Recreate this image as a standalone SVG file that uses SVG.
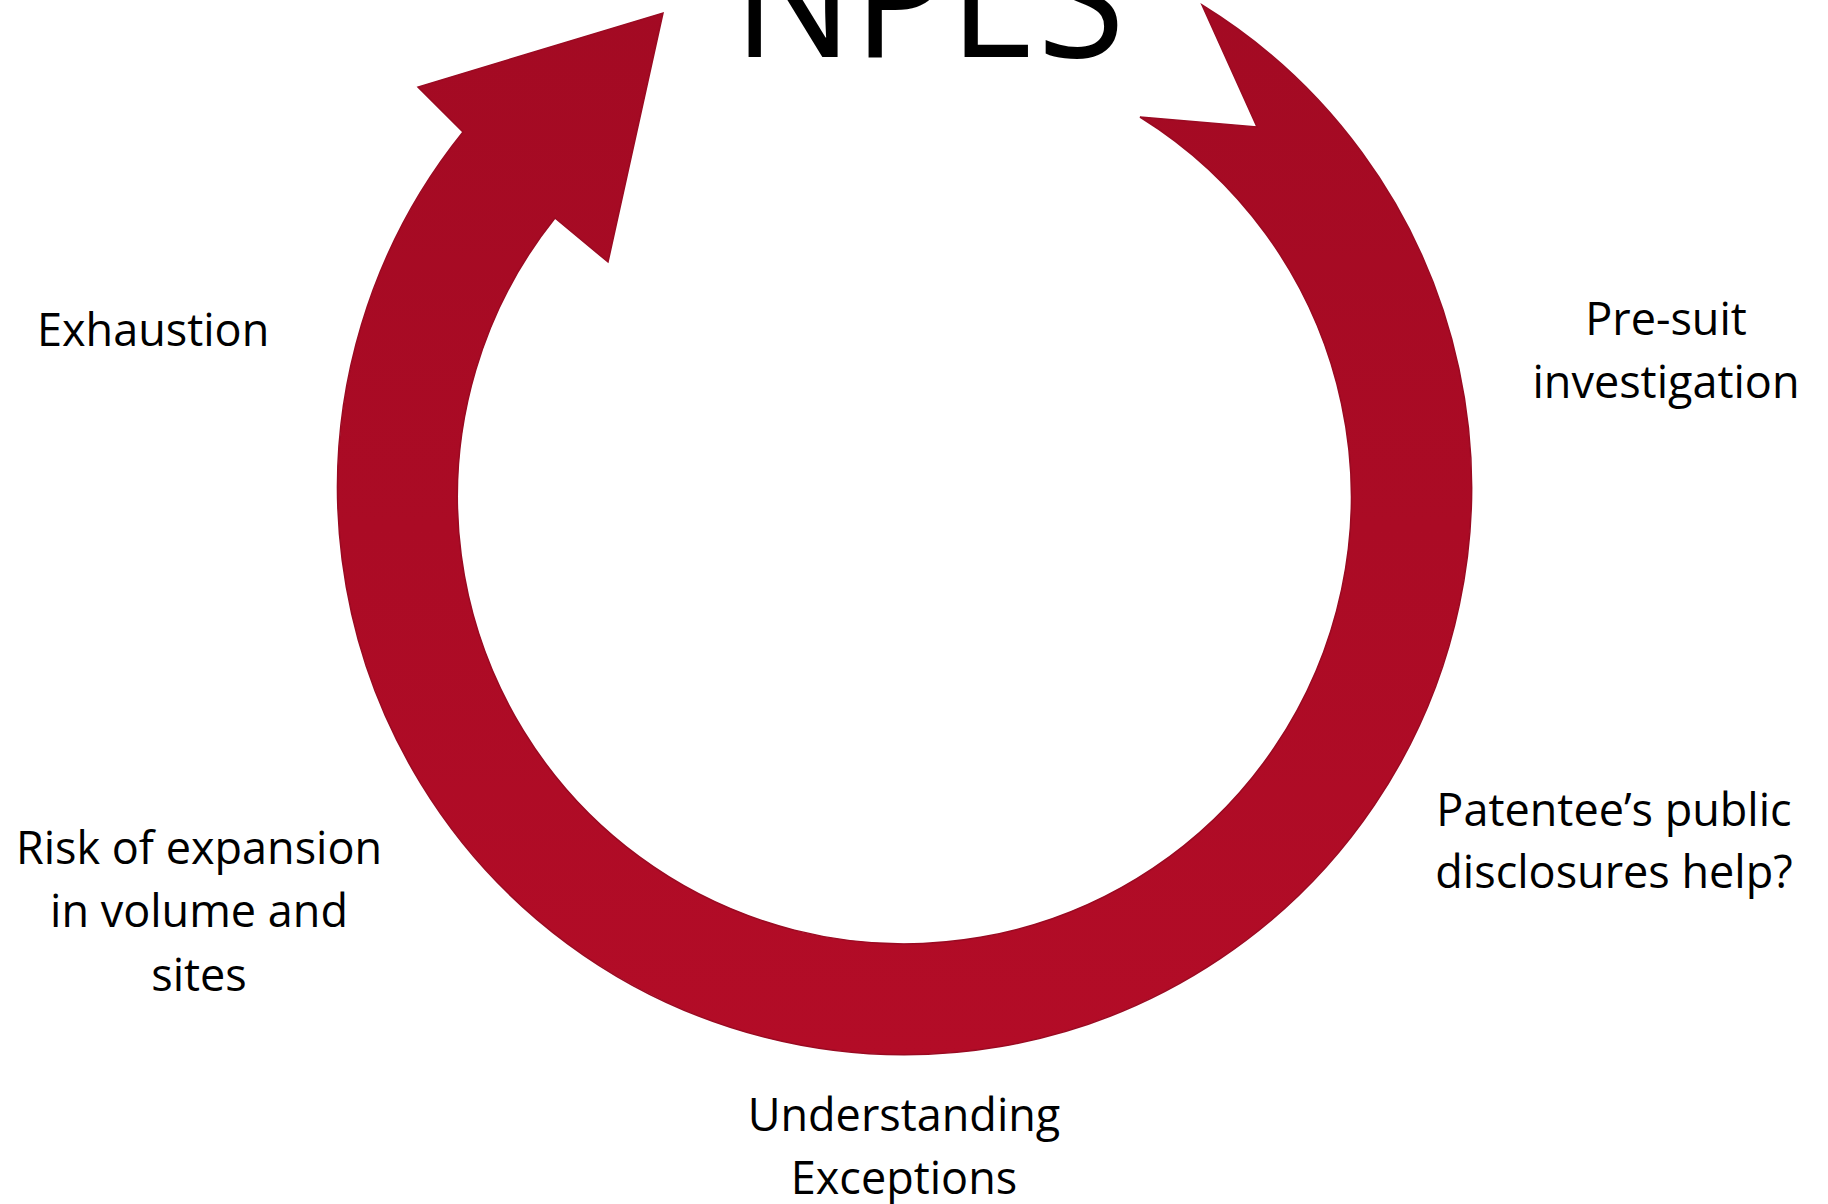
<svg xmlns="http://www.w3.org/2000/svg" width="1828" height="1204" viewBox="0 0 1828 1204">
  <style>
    .lbl { font-family: "Open Sans", "Liberation Sans", sans-serif; font-size: 45px; fill: #000; text-anchor: middle; }
    .title { font-family: "Open Sans", "Liberation Sans", sans-serif; font-size: 168px; fill: #000; }
  </style>
  <defs>
    <linearGradient id="red" x1="0" y1="0" x2="0" y2="1055" gradientUnits="userSpaceOnUse">
      <stop offset="0" stop-color="#A30A23"/>
      <stop offset="1" stop-color="#B30C27"/>
    </linearGradient>
  </defs>
  <rect width="1828" height="1204" fill="#fff"/>

  <g id="cycle-arrow">
    <path d="M 1202 5 A 567 567 0 1 1 463 132 L 418 87 L 663 13 L 608 262 L 555 218 A 447 447 0 1 0 1140 117 L 1257 127 Z"
          fill="url(#red)" stroke="#9A0A22" stroke-width="1.5" stroke-linejoin="miter"/>
  </g>

  <g id="title">
    <text class="title" x="733" y="57" textLength="392" lengthAdjust="spacingAndGlyphs">NPES</text>
  </g>

  <g id="exhaustion">
    <text class="lbl" x="37" y="346" style="text-anchor:start">Exhaustion</text>
  </g>

  <g id="pre-suit">
    <text class="lbl" x="1666" y="335">Pre-suit</text>
    <text class="lbl" x="1666" y="398">investigation</text>
  </g>

  <g id="patentee">
    <text class="lbl" x="1614" y="826">Patentee’s public</text>
    <text class="lbl" x="1614" y="888">disclosures help?</text>
  </g>

  <g id="risk">
    <text class="lbl" x="199" y="864">Risk of expansion</text>
    <text class="lbl" x="199" y="927">in volume and</text>
    <text class="lbl" x="199" y="991">sites</text>
  </g>

  <g id="understanding">
    <text class="lbl" x="904" y="1131">Understanding</text>
    <text class="lbl" x="904" y="1194">Exceptions</text>
  </g>

  <g id="connectors"></g>
</svg>
